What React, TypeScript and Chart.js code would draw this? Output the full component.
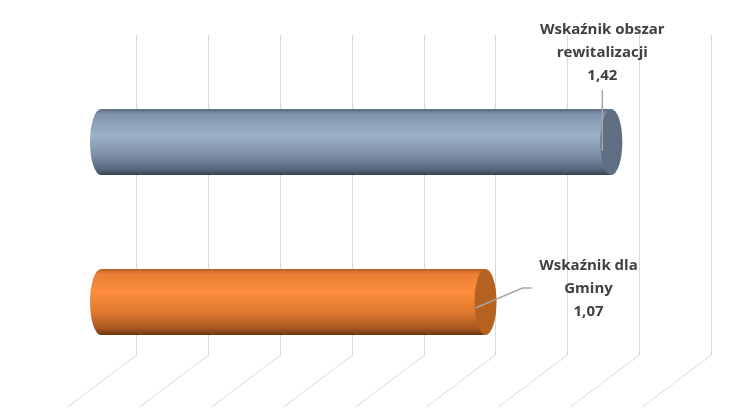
import React, { useEffect, useRef } from "react";
import { Chart, registerables } from "chart.js";

Chart.register(...registerables);

const categories: string[][] = [
  ["Wskaźnik obszar", "rewitalizacji"],
  ["Wskaźnik dla", "Gminy"],
];
const values: number[] = [1.42, 1.07];
const axisMin = 0;
const axisMax = 1.6;
const axisStep = 0.2;

const bodyStops: [number, string][][] = [
  [
    [0, "#5b6a80"],
    [0.08, "#7f93ad"],
    [0.4, "#9db1cb"],
    [0.7, "#7d8fa6"],
    [0.92, "#56657a"],
    [1, "#37414f"],
  ],
  [
    [0, "#b8602a"],
    [0.08, "#ec7f34"],
    [0.35, "#fb8d3c"],
    [0.65, "#e07a30"],
    [0.9, "#a85620"],
    [1, "#6a3610"],
  ],
];
const capColors = ["#5f6e83", "#b5611f"];

const fmt = (v: number) => v.toFixed(2).replace(".", ",");

const floorPlugin = {
  id: "floor3d",
  beforeDatasetsDraw(chart: any) {
    const { ctx, chartArea, scales } = chart;
    const xs = scales.x;
    ctx.save();
    ctx.strokeStyle = "#d9d9d9";
    ctx.lineWidth = 1;
    for (let v = axisMin; v <= axisMax + 1e-9; v += axisStep) {
      const px = Math.round(xs.getPixelForValue(v)) + 0.5;
      ctx.beginPath();
      ctx.moveTo(px + 35, chartArea.top - 27);
      ctx.lineTo(px + 35, chartArea.bottom - 27);
      ctx.lineTo(px - 34, chartArea.bottom + 25);
      ctx.stroke();
    }
    ctx.restore();
  },
};

const cylinderPlugin = {
  id: "cylinders",
  afterDatasetsDraw(chart: any) {
    const { ctx } = chart;
    const meta = chart.getDatasetMeta(0);
    meta.data.forEach((el: any, i: number) => {
      const { x, y, base, height } = el.getProps(["x", "y", "base", "height"], true);
      const top = y - height / 2;
      const bottom = y + height / 2;
      const rx = 11;
      const ry = height / 2;
      ctx.save();
      const g = ctx.createLinearGradient(0, top, 0, bottom);
      bodyStops[i].forEach(([o, c]) => g.addColorStop(o, c));
      ctx.beginPath();
      ctx.moveTo(base, top);
      ctx.lineTo(x, top);
      ctx.lineTo(x, bottom);
      ctx.lineTo(base, bottom);
      ctx.ellipse(base, y, rx, ry, 0, Math.PI / 2, (3 * Math.PI) / 2, false);
      ctx.closePath();
      ctx.fillStyle = g;
      ctx.fill();
      ctx.beginPath();
      ctx.ellipse(x, y, rx, ry, 0, 0, Math.PI * 2);
      ctx.fillStyle = capColors[i];
      ctx.fill();
      ctx.restore();
    });
  },
  afterDraw(chart: any) {
    const { ctx } = chart;
    const meta = chart.getDatasetMeta(0);
    ctx.save();
    ctx.font = "bold 15px 'Open Sans'";
    ctx.fillStyle = "#404040";
    ctx.textAlign = "center";
    ctx.textBaseline = "middle";
    ctx.strokeStyle = "#a6a6a6";
    ctx.lineWidth = 1.5;
    meta.data.forEach((el: any, i: number) => {
      const { x, y, height } = el.getProps(["x", "y", "height"], true);
      const top = y - height / 2;
      const lines = [...categories[i], fmt(values[i])];
      if (i === 0) {
        const cx = x - 9;
        lines.forEach((t, k) => ctx.fillText(t, cx, top - 79 + k * 23));
        ctx.beginPath();
        ctx.moveTo(cx, top - 19);
        ctx.lineTo(cx, y + 9);
        ctx.stroke();
      } else {
        const cx = x + 103;
        lines.forEach((t, k) => ctx.fillText(t, cx, y - 36 + k * 23));
        ctx.beginPath();
        ctx.moveTo(x - 10, y + 6);
        ctx.lineTo(x + 37, y - 14);
        ctx.lineTo(x + 46, y - 14);
        ctx.stroke();
      }
    });
    ctx.restore();
  },
};

export default function App() {
  const ref = useRef<HTMLCanvasElement | null>(null);
  useEffect(() => {
    document.body.style.margin = "0";
    const chart = new Chart(ref.current!, {
      type: "bar",
      data: {
        labels: categories.map((c) => c.join(" ")),
        datasets: [
          {
            data: values,
            backgroundColor: "rgba(0,0,0,0)",
            borderWidth: 0,
            categoryPercentage: 1,
            barPercentage: 0.4125,
          },
        ],
      },
      options: {
        indexAxis: "y",
        animation: false,
        responsive: true,
        maintainAspectRatio: false,
        layout: { padding: { left: 101, right: 74, top: 62, bottom: 34 } },
        plugins: { legend: { display: false }, tooltip: { enabled: false } },
        scales: {
          x: { type: "linear", min: axisMin, max: axisMax, display: false },
          y: { type: "category", display: false },
        },
      },
      plugins: [floorPlugin, cylinderPlugin],
    } as any);
    return () => chart.destroy();
  }, []);
  return (
    <div style={{ width: 750, height: 416, position: "relative", background: "#fff" }}>
      <canvas ref={ref} />
    </div>
  );
}
